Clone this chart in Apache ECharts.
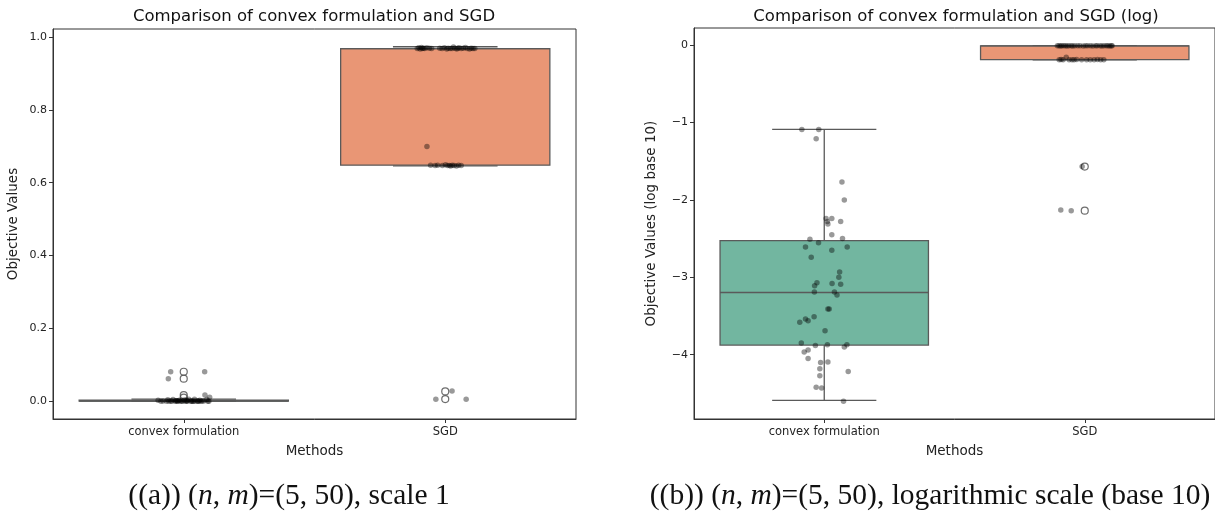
<!DOCTYPE html>
<html>
<head>
<meta charset="utf-8">
<script src="https://cdn.jsdelivr.net/npm/echarts@6/dist/echarts.min.js"></script>
<style>
  html, body { margin: 0; padding: 0; background: #fff; }
  #chart { width: 1215px; height: 517px; }
</style>
</head>
<body>
<div id="chart"></div>
<script>
// categories
const methods = ['convex formulation', 'SGD'];

// tick labels
const linTicks = [0, 0.2, 0.4, 0.6, 0.8, 1.0];
const logTicks = [-4, -3, -2, -1, 0];

// box stats [whisker low, q1, median, q3, whisker high]
const linConvexBox = [0.00003, 0.00013, 0.0006, 0.003, 0.0058];
const linSgdBox = [0.646, 0.648, 0.968, 0.968, 0.973];
const logConvexBox = [-4.59, -3.875, -3.196, -2.525, -1.09];
const logSgdBox = [-0.19, -0.188, -0.012, -0.011, -0.008];

// fliers (drawn at category centre)
const linConvexFliers = [0.081, 0.062, 0.017, 0.010];
const linSgdFliers = [0.027, 0.006];
const logConvexFliers = [];
const logSgdFliers = [-1.57, -2.14];

// strip points: [jitter, value]
const linConvexStrip = [
  [-0.050, 0.081], [-0.059, 0.062], [0.080, 0.081], [0.081, 0.017], [0.099, 0.011],
  [-0.098, 0.0030], [-0.087, 0.0002], [-0.079, 0.0006], [-0.066, 0.0001], [-0.061, 0.0040],
  [-0.057, 0.0003], [-0.049, 0.0008], [-0.046, 0.0001], [-0.041, 0.0050], [-0.033, 0.0002],
  [-0.031, 0.0012], [-0.024, 0.0001], [-0.022, 0.0004], [-0.017, 0.0025], [-0.013, 0.0001],
  [-0.008, 0.0006], [-0.004, 0.0003], [0.002, 0.0035], [0.006, 0.0001], [0.011, 0.0008],
  [0.014, 0.0002], [0.019, 0.0052], [0.027, 0.0001], [0.029, 0.0009], [0.036, 0.0003],
  [0.041, 0.0058], [0.043, 0.0001], [0.052, 0.0007], [0.054, 0.0002], [0.061, 0.0031],
  [0.066, 0.0001], [0.071, 0.0004], [0.077, 0.0010], [0.088, 0.0051], [0.092, 0.0002],
  [0.096, 0.0001], [0.013, 0.0022], [-0.027, 0.0013], [0.034, 0.0001], [0.058, 0.0002]
];
const linSgdStrip = [
  [-0.107, 0.968], [-0.101, 0.970], [-0.096, 0.967], [-0.091, 0.971], [-0.084, 0.969],
  [-0.079, 0.968], [-0.071, 0.970], [-0.061, 0.969], [-0.052, 0.968], [-0.021, 0.969],
  [-0.012, 0.968], [-0.003, 0.970], [0.006, 0.967], [0.011, 0.969], [0.019, 0.968],
  [0.026, 0.968], [0.031, 0.972], [0.037, 0.969], [0.044, 0.967], [0.053, 0.970],
  [0.061, 0.968], [0.069, 0.969], [0.077, 0.971], [0.084, 0.968], [0.093, 0.967],
  [0.099, 0.969], [0.106, 0.968], [0.113, 0.968], [0.048, 0.969], [-0.088, 0.968],
  [-0.056, 0.648], [-0.039, 0.647], [-0.029, 0.648], [-0.011, 0.647], [0.001, 0.649],
  [0.009, 0.647], [0.021, 0.646], [0.027, 0.648], [0.034, 0.647], [0.043, 0.646],
  [0.051, 0.648], [0.061, 0.647], [0.016, 0.647],
  [-0.070, 0.699],
  [-0.036, 0.0055], [0.026, 0.028], [0.080, 0.0055]
];
const logConvexStrip = [
  [-0.086, -1.09], [-0.021, -1.09], [-0.031, -1.21], [0.068, -1.77], [0.077, -2.00],
  [0.007, -2.24], [0.029, -2.24], [0.012, -2.28], [0.063, -2.28], [0.014, -2.31],
  [0.029, -2.45], [-0.055, -2.51], [0.070, -2.50], [-0.072, -2.61], [-0.022, -2.555],
  [0.088, -2.61], [0.029, -2.65], [-0.050, -2.74], [0.059, -2.93], [0.056, -3.00],
  [-0.028, -3.07], [-0.037, -3.11], [0.030, -3.08], [0.063, -3.09], [-0.038, -3.19],
  [0.039, -3.19], [0.049, -3.23], [0.014, -3.41], [0.019, -3.41], [-0.039, -3.51],
  [-0.072, -3.54], [-0.062, -3.56], [-0.094, -3.58], [0.003, -3.69], [-0.088, -3.85],
  [-0.034, -3.88], [0.012, -3.87], [0.077, -3.90], [0.087, -3.87], [-0.077, -3.965],
  [-0.062, -3.94], [-0.062, -4.05], [-0.014, -4.10], [0.014, -4.095], [-0.017, -4.18],
  [-0.017, -4.27], [0.092, -4.215], [-0.031, -4.42], [-0.010, -4.43], [0.074, -4.60]
];
const logSgdStrip = [
  [-0.105, -0.010], [-0.099, -0.009], [-0.093, -0.011], [-0.088, -0.010], [-0.081, -0.008],
  [-0.074, -0.010], [-0.068, -0.012], [-0.061, -0.009], [-0.052, -0.010], [-0.046, -0.011],
  [-0.038, -0.010], [-0.027, -0.009], [-0.018, -0.010], [-0.006, -0.011], [0.003, -0.010],
  [0.011, -0.009], [0.022, -0.010], [0.031, -0.011], [0.042, -0.010], [0.048, -0.009],
  [0.059, -0.010], [0.066, -0.011], [0.074, -0.010], [0.083, -0.009], [0.089, -0.010],
  [0.096, -0.011], [0.102, -0.010], [0.105, -0.009],
  [-0.098, -0.190], [-0.091, -0.188], [-0.083, -0.191], [-0.071, -0.157], [-0.060, -0.189],
  [-0.049, -0.190], [-0.031, -0.188], [-0.012, -0.190], [0.007, -0.189], [0.021, -0.191],
  [0.036, -0.190], [0.049, -0.188], [0.061, -0.190], [0.073, -0.189], [-0.041, -0.190],
  [-0.092, -2.13], [-0.052, -2.14], [-0.010, -1.57]
];

const convexColor = '#72b6a0';
const sgdColor = '#e99675';
const edgeColor = '#5a5a5a';
const tickFont = 'DejaVu Sans';

function renderBox(params, api) {
  const c = api.value(0);
  const lo = api.coord([c, api.value(1)]);
  const q1 = api.coord([c, api.value(2)]);
  const md = api.coord([c, api.value(3)]);
  const q3 = api.coord([c, api.value(4)]);
  const hi = api.coord([c, api.value(5)]);
  const band = Math.abs(api.coord([1, 0])[0] - api.coord([0, 0])[0]);
  const hw = band * 0.4;
  const cw = band * 0.2;
  const x = lo[0];
  const ls = { stroke: edgeColor, lineWidth: 1.3 };
  return {
    type: 'group',
    children: [
      { type: 'line', shape: { x1: x, y1: q1[1], x2: x, y2: lo[1] }, style: ls },
      { type: 'line', shape: { x1: x, y1: q3[1], x2: x, y2: hi[1] }, style: ls },
      { type: 'line', shape: { x1: x - cw, y1: lo[1], x2: x + cw, y2: lo[1] }, style: ls },
      { type: 'line', shape: { x1: x - cw, y1: hi[1], x2: x + cw, y2: hi[1] }, style: ls },
      {
        type: 'rect',
        shape: { x: x - hw, y: q3[1], width: hw * 2, height: q1[1] - q3[1] },
        style: { fill: api.visual('color'), stroke: edgeColor, lineWidth: 1.3 }
      },
      { type: 'line', shape: { x1: x - hw, y1: md[1], x2: x + hw, y2: md[1] }, style: ls }
    ]
  };
}

function boxData(convexBox, sgdBox) {
  return [
    { value: [0].concat(convexBox), itemStyle: { color: convexColor } },
    { value: [1].concat(sgdBox), itemStyle: { color: sgdColor } }
  ];
}

function flierData(convexF, sgdF) {
  return convexF.map(v => [0, v]).concat(sgdF.map(v => [1, v]));
}

function stripData(convexS, sgdS) {
  return convexS.map(p => [p[0], p[1]]).concat(sgdS.map(p => [1 + p[0], p[1]]));
}

function fmtLin(v) { return v.toFixed(1); }
function fmtLog(v) { return v < 0 ? '\u2212' + Math.abs(v) : String(v); }

function catAxis(gridIndex) {
  return {
    type: 'category', gridIndex: gridIndex, data: methods,
    name: 'Methods', nameLocation: 'middle', nameGap: 25,
    nameTextStyle: { fontFamily: tickFont, fontSize: 13.5, color: '#222' },
    axisLine: { show: true, onZero: false, lineStyle: { color: '#333', width: 1 } },
    axisTick: { show: true, alignWithLabel: true, length: 4, lineStyle: { color: '#333' } },
    axisLabel: { fontFamily: tickFont, fontSize: 11.5, color: '#222', margin: 7 },
    splitLine: { show: false }
  };
}

function jitterAxis(gridIndex) {
  return {
    type: 'value', gridIndex: gridIndex, min: -0.5, max: 1.5, show: false,
    axisLine: { onZero: false }, splitLine: { show: false }
  };
}

function valAxis(gridIndex, min, max, ticks, fmt, name, gap) {
  return {
    type: 'value', gridIndex: gridIndex, min: min, max: max,
    name: name, nameLocation: 'middle', nameGap: gap,
    nameTextStyle: { fontFamily: tickFont, fontSize: 13.5, color: '#222' },
    axisLine: { show: true, onZero: false, lineStyle: { color: '#333', width: 1 } },
    axisTick: { show: true, length: 4, lineStyle: { color: '#333' }, customValues: ticks },
    axisLabel: { fontFamily: tickFont, fontSize: 11, color: '#222', margin: 6, customValues: ticks, formatter: fmt },
    splitLine: { show: false }
  };
}

const chart = echarts.init(document.getElementById('chart'));

const captionSize = 29.5;
const captionRich = { i: { fontStyle: 'italic', fontFamily: 'Liberation Serif', fontSize: captionSize, fill: '#111' } };

const option = {
  animation: false,
  backgroundColor: '#fff',
  grid: [
    { left: 53, top: 29, width: 523, height: 390, show: true, borderColor: '#333', borderWidth: 1 },
    { left: 694, top: 28, width: 525, height: 391, show: true, borderColor: '#333', borderWidth: 1 }
  ],
  xAxis: [catAxis(0), catAxis(1), jitterAxis(0), jitterAxis(1)],
  yAxis: [
    valAxis(0, -0.0487, 1.0217, linTicks, fmtLin, 'Objective Values', 33),
    valAxis(1, -4.83, 0.22, logTicks, fmtLog, 'Objective Values (log base 10)', 36)
  ],
  graphic: [
    {
      type: 'text', x: 314, y: 17,
      style: { text: 'Comparison of convex formulation and SGD', align: 'center', verticalAlign: 'middle',
        font: '16.5px "DejaVu Sans"', fill: '#111' }
    },
    {
      type: 'text', x: 956, y: 17,
      style: { text: 'Comparison of convex formulation and SGD (log)', align: 'center', verticalAlign: 'middle',
        font: '16.5px "DejaVu Sans"', fill: '#111' }
    },
    {
      type: 'text', x: 289, y: 496,
      style: {
        text: '((a)) ({i|n}, {i|m})=(5, 50), scale 1', align: 'center', verticalAlign: 'middle',
        fontFamily: 'Liberation Serif', fontSize: captionSize, fill: '#111', rich: captionRich
      }
    },
    {
      type: 'text', x: 930, y: 496,
      style: {
        text: '((b)) ({i|n}, {i|m})=(5, 50), logarithmic scale (base 10)', align: 'center', verticalAlign: 'middle',
        fontFamily: 'Liberation Serif', fontSize: captionSize, fill: '#111', rich: captionRich
      }
    }
  ],
  series: [
    {
      type: 'custom', xAxisIndex: 0, yAxisIndex: 0, renderItem: renderBox,
      encode: { x: 0, y: [1, 2, 3, 4, 5] }, data: boxData(linConvexBox, linSgdBox), z: 2
    },
    {
      type: 'custom', xAxisIndex: 1, yAxisIndex: 1, renderItem: renderBox,
      encode: { x: 0, y: [1, 2, 3, 4, 5] }, data: boxData(logConvexBox, logSgdBox), z: 2
    },
    {
      type: 'scatter', xAxisIndex: 2, yAxisIndex: 0, symbol: 'circle', symbolSize: 7,
      itemStyle: { color: 'rgba(0,0,0,0)', borderColor: '#4a4a4a', borderWidth: 1.2 },
      data: flierData(linConvexFliers, linSgdFliers), z: 3
    },
    {
      type: 'scatter', xAxisIndex: 3, yAxisIndex: 1, symbol: 'circle', symbolSize: 7,
      itemStyle: { color: 'rgba(0,0,0,0)', borderColor: '#4a4a4a', borderWidth: 1.2 },
      data: flierData(logConvexFliers, logSgdFliers), z: 3
    },
    {
      type: 'scatter', xAxisIndex: 2, yAxisIndex: 0, symbol: 'circle', symbolSize: 5.5,
      itemStyle: { color: 'rgba(0,0,0,0.5)' },
      data: stripData(linConvexStrip, linSgdStrip), z: 4
    },
    {
      type: 'scatter', xAxisIndex: 3, yAxisIndex: 1, symbol: 'circle', symbolSize: 5.5,
      itemStyle: { color: 'rgba(0,0,0,0.5)' },
      data: stripData(logConvexStrip, logSgdStrip), z: 4
    }
  ]
};

chart.setOption(option);
</script>
</body>
</html>
